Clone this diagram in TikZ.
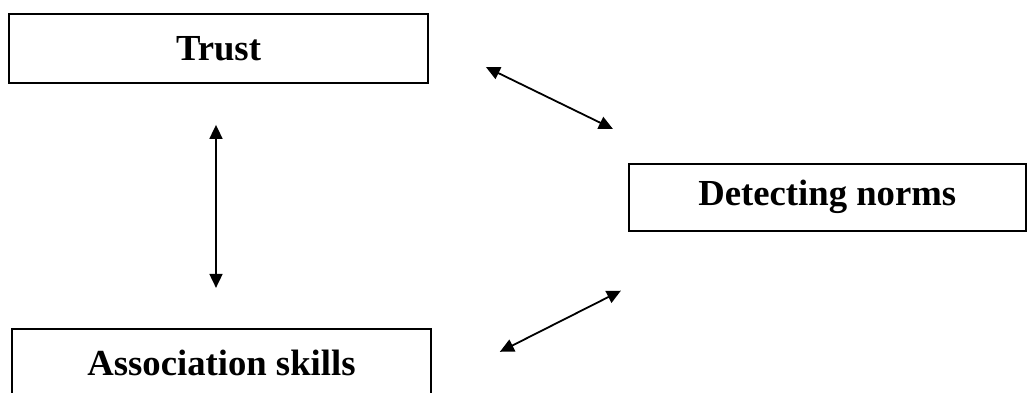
\documentclass[tikz,border=0pt]{standalone}
\usepackage{fontspec}
\setmainfont{Liberation Serif}
\usetikzlibrary{arrows.meta, positioning, calc}

\begin{document}
\begin{tikzpicture}[
        inner sep=0pt,
        box/.style={draw, line width=0.9pt, rectangle, align=center,
            minimum width=209.5pt, minimum height=34.5pt,
            font=\fontsize{18.35}{22}\selectfont\bfseries},
        both/.style={line width=0.9pt,
            {Triangle[length=7pt, width=6.5pt]}-{Triangle[length=7pt, width=6.5pt]}},
    ]
        % page frame, trust sits at the origin
        \useasboundingbox (-109.25pt,24.25pt) rectangle ++(517.5pt,-196pt);
        \node[box] (trust) {Trust};
        \node[box, minimum width=198.5pt, minimum height=33.5pt,
            below right=39.5pt and 99.5pt of trust] (norms) {Detecting norms};
        \node[box, below=122pt of trust, xshift=1.5pt] (assoc) {Association skills};
        % free ends of the arrows
        \coordinate (t-n) at ($(trust.east)+(28.5pt,-9.25pt)$);
        \coordinate (n-t) at ($(norms.north west)+(-7.5pt,17pt)$);
        \coordinate (n-a) at ($(norms.south west)+(-3.5pt,-29.5pt)$);
        \coordinate (a-n) at ($(assoc.east)+(34pt,5.75pt)$);
        \draw[both, shorten <=20.5pt, shorten >=20pt]
            ([xshift=-1.25pt]trust.south) -- ([xshift=-1.25pt]trust.south |- assoc.north);
        \draw[both] (t-n) -- (n-t);
        \draw[both] (n-a) -- (a-n);
    \end{tikzpicture}
\end{document}
